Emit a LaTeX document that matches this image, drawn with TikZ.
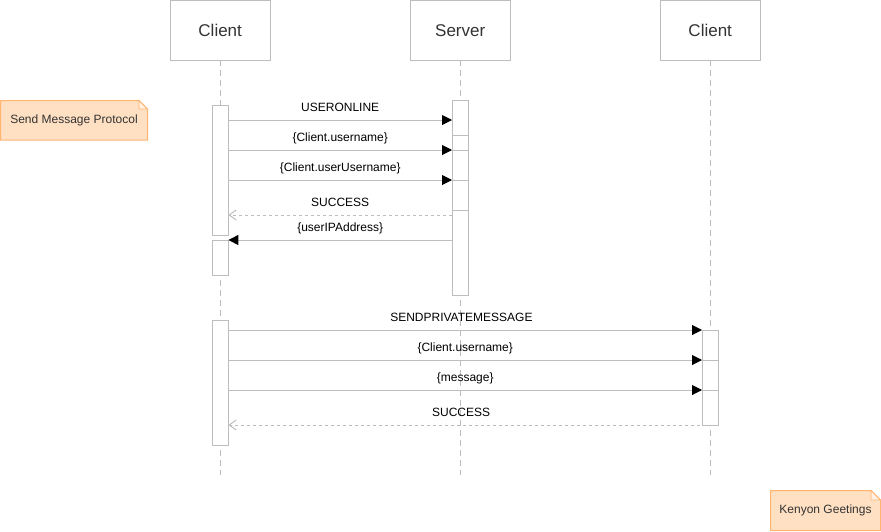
\documentclass[tikz,border=0pt]{standalone}
\usepackage{fontspec}
\setmainfont{Liberation Sans}
\usetikzlibrary{arrows.meta}
\definecolor{ln}{HTML}{BDBDBD}
\definecolor{notefill}{HTML}{FFE0C2}
\definecolor{noteline}{HTML}{FFB570}
\definecolor{foldfill}{HTML}{FFF0E2}
\definecolor{txt}{HTML}{333333}
\begin{document}
\begin{tikzpicture}[x=1pt,y=-1pt,
  head/.style={draw=ln, fill=white, minimum width=100pt, minimum height=60pt, inner sep=0pt, font=\fontsize{17}{20}\selectfont, text=txt, anchor=north west},
  act/.style={draw=ln, fill=white, minimum width=16pt, inner sep=0pt, anchor=north west},
  life/.style={draw=ln, line width=1pt, dash pattern=on 6pt off 4pt},
  msg/.style={draw=ln, line width=1pt, -{Triangle[length=10pt,width=10pt,color=black,fill=black]}},
  ret/.style={draw=ln, line width=1pt, dash pattern=on 3pt off 3pt, -{Straight Barb[length=7pt,width=10pt,color=ln]}},
  lab/.style={font=\fontsize{12}{14}\selectfont, text=black, inner sep=0pt, anchor=base, yshift=9pt},
  notetext/.style={font=\fontsize{12}{14}\selectfont, text=txt, inner sep=0pt, anchor=center},
  notebox/.style={fill=notefill, draw=noteline, line width=1pt},
  fold/.style={fill=foldfill, draw=noteline, line width=0.8pt}
]
\useasboundingbox (0,0) rectangle (881,531);

% headers
\node[head] (h1) at (170,0) {Client};
\node[head] (h2) at (410,0) {Server};
\node[head] (h3) at (660,0) {Client};

% lifeline ends
\coordinate (yend) at (0,475);
\draw[life] (h1.south) -- (h1.south |- yend);
\draw[life] (h2.south) -- (h2.south |- yend);
\draw[life] (h3.south) -- (h3.south |- yend);

% activations
\node[act, minimum height=130pt] (ca1) at (212,105) {};
\node[act, minimum height=35pt] (ca2) at (212,240) {};
\node[act, minimum height=195pt] (sa) at (452,100) {};
\node[act, minimum height=125pt] (ca3) at (212,320) {};
\node[act, minimum height=95pt] (ra) at (702,330) {};

% levels
\coordinate (m1) at (0,120);
\coordinate (m2) at (0,150);
\coordinate (m3) at (0,180);
\coordinate (m4) at (0,215);
\coordinate (m5) at (0,240);
\coordinate (s135) at (0,135);
\coordinate (s210) at (0,210);
\coordinate (p1) at (0,330);
\coordinate (p2) at (0,360);
\coordinate (p3) at (0,390);
\coordinate (p4) at (0,425);

% internal separators of activations
\draw[ln, line width=1pt] (sa.west |- s135) -- (sa.east |- s135);
\draw[ln, line width=1pt] (sa.west |- m2) -- (sa.east |- m2);
\draw[ln, line width=1pt] (sa.west |- m3) -- (sa.east |- m3);
\draw[ln, line width=1pt] (sa.west |- s210) -- (sa.east |- s210);
\draw[ln, line width=1pt] (ra.west |- p2) -- (ra.east |- p2);
\draw[ln, line width=1pt] (ra.west |- p3) -- (ra.east |- p3);

% messages part 1
\draw[msg] (ca1.east |- m1) -- node[lab] {USERONLINE} (sa.west |- m1);
\draw[msg] (ca1.east |- m2) -- node[lab] {\{Client.username\}} (sa.west |- m2);
\draw[msg] (ca1.east |- m3) -- node[lab] {\{Client.userUsername\}} (sa.west |- m3);
\draw[ret] (sa.west |- m4) -- node[lab] {SUCCESS} (ca1.east |- m4);
\draw[msg] (sa.west |- m5) -- node[lab] {\{userIPAddress\}} (ca2.east |- m5);

% messages part 2
\draw[msg] (ca3.east |- p1) -- node[lab, pos=0.492, yshift=-0.5pt] {SENDPRIVATEMESSAGE} (ra.west |- p1);
\draw[msg] (ca3.east |- p2) -- node[lab] {\{Client.username\}} (ra.west |- p2);
\draw[msg] (ca3.east |- p3) -- node[lab] {\{message\}} (ra.west |- p3);
\draw[ret] (ra.east |- p4) -- node[lab, pos=0.525] {SUCCESS} (ca3.east |- p4);

% notes
\draw[notebox] (0.5,100.5) -- (139,100.5) -- (147.5,109) -- (147.5,140) -- (0.5,140) -- cycle;
\draw[fold] (139,100.5) -- (139,109) -- (147.5,109) -- cycle;
\node[notetext] (n1) at (74,120.5) {Send Message Protocol};

\draw[notebox] (770.5,490.5) -- (871,490.5) -- (880.5,500) -- (880.5,530.5) -- (770.5,530.5) -- cycle;
\draw[fold] (871,490.5) -- (871,500) -- (880.5,500) -- cycle;
\node[notetext] (n2) at (825.5,510.5) {Kenyon Geetings};
\end{tikzpicture}
\end{document}
